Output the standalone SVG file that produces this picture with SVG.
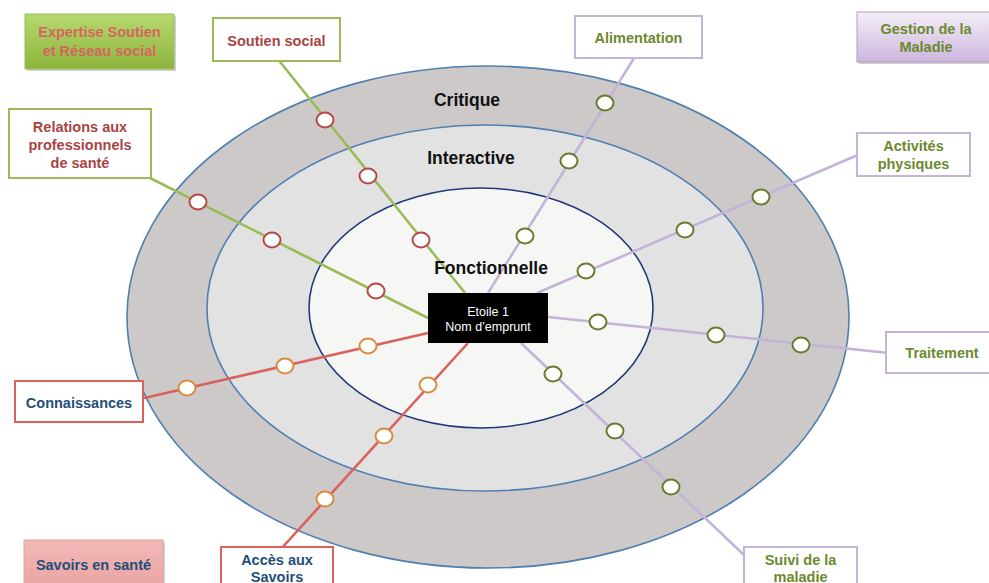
<svg xmlns="http://www.w3.org/2000/svg" width="989" height="583" viewBox="0 0 989 583">
<defs>
<linearGradient id="gGreen" x1="0" y1="0" x2="0" y2="1"><stop offset="0" stop-color="#b6d96f"/><stop offset="1" stop-color="#8db43c"/></linearGradient>
<linearGradient id="gPurple" x1="0" y1="0" x2="0" y2="1"><stop offset="0" stop-color="#f4eef8"/><stop offset="1" stop-color="#cdb6de"/></linearGradient>
<linearGradient id="gPink" x1="0" y1="0" x2="0" y2="1"><stop offset="0" stop-color="#f2b9b7"/><stop offset="1" stop-color="#e9a3a1"/></linearGradient>
</defs>
<style>
text{font-family:"Liberation Sans",Arial,sans-serif;text-anchor:middle}
.lbl{font-size:14.5px;font-weight:bold}
.ring{font-size:17.5px;font-weight:bold;fill:#111}
.red{fill:#a84442}
.sal{fill:#d4665f}
.oli{fill:#6b8a2e}
.blu{fill:#1f4e79}
.bG{fill:#fff;stroke:#9bbb59;stroke-width:2}
.bP{fill:#fff;stroke:#c4b4d9;stroke-width:2}
.bR{fill:#fff;stroke:#d9625c;stroke-width:2}
.shadow{fill:#000;opacity:0.18}
.lG{stroke:#9bbb59;stroke-width:2.6;fill:none}
.lR{stroke:#d9625c;stroke-width:2.6;fill:none}
.lP{stroke:#c3b3d8;stroke-width:2.6;fill:none}
.cR{fill:#fff;stroke:#b64845;stroke-width:2}
.cO{fill:#fff;stroke:#d98c40;stroke-width:2}
.cV{fill:#fff;stroke:#6a7a2e;stroke-width:2}
</style>
<rect width="989" height="583" fill="#fff"/>
<g id="rings">
<ellipse cx="488" cy="317" rx="361" ry="251" fill="#cdc9c9" stroke="#4f7fb0" stroke-width="1.6"/>
<ellipse cx="485" cy="308" rx="278" ry="183" fill="#e3e2e2" stroke="#4f7fb0" stroke-width="1.6"/>
<ellipse cx="481" cy="308" rx="172" ry="120" fill="#f6f6f5" stroke="#1f3a7a" stroke-width="1.6"/>
</g>
<g id="connectors">
<line class="lG" x1="277" y1="58" x2="465" y2="293"/>
<line class="lG" x1="148" y1="177" x2="428" y2="318"/>
<line class="lR" x1="140" y1="399" x2="428" y2="333"/>
<line class="lR" x1="280" y1="550" x2="468" y2="343"/>
<line class="lP" x1="636" y1="55" x2="488" y2="293"/>
<line class="lP" x1="860" y1="154" x2="537" y2="293"/>
<line class="lP" x1="548" y1="317" x2="889" y2="353"/>
<line class="lP" x1="521" y1="343" x2="744" y2="555"/>
<ellipse class="cR" cx="325" cy="120" rx="8.5" ry="7.5"/>
<ellipse class="cR" cx="368" cy="176" rx="8.5" ry="7.5"/>
<ellipse class="cR" cx="421" cy="240" rx="8.5" ry="7.5"/>
<ellipse class="cR" cx="198" cy="202" rx="8.5" ry="7.5"/>
<ellipse class="cR" cx="272" cy="240" rx="8.5" ry="7.5"/>
<ellipse class="cR" cx="376" cy="291" rx="8.5" ry="7.5"/>
<ellipse class="cO" cx="187" cy="388" rx="8.5" ry="7.5"/>
<ellipse class="cO" cx="285" cy="366" rx="8.5" ry="7.5"/>
<ellipse class="cO" cx="368" cy="346" rx="8.5" ry="7.5"/>
<ellipse class="cO" cx="325" cy="499" rx="8.5" ry="7.5"/>
<ellipse class="cO" cx="384" cy="436" rx="8.5" ry="7.5"/>
<ellipse class="cO" cx="428" cy="385" rx="8.5" ry="7.5"/>
<ellipse class="cV" cx="605" cy="103" rx="8.5" ry="7.5"/>
<ellipse class="cV" cx="569" cy="161" rx="8.5" ry="7.5"/>
<ellipse class="cV" cx="525" cy="236" rx="8.5" ry="7.5"/>
<ellipse class="cV" cx="761" cy="197" rx="8.5" ry="7.5"/>
<ellipse class="cV" cx="685" cy="230" rx="8.5" ry="7.5"/>
<ellipse class="cV" cx="586" cy="271" rx="8.5" ry="7.5"/>
<ellipse class="cV" cx="598" cy="322" rx="8.5" ry="7.5"/>
<ellipse class="cV" cx="716" cy="335" rx="8.5" ry="7.5"/>
<ellipse class="cV" cx="801" cy="345" rx="8.5" ry="7.5"/>
<ellipse class="cV" cx="553" cy="374" rx="8.5" ry="7.5"/>
<ellipse class="cV" cx="615" cy="431" rx="8.5" ry="7.5"/>
<ellipse class="cV" cx="671" cy="487" rx="8.5" ry="7.5"/>
</g>
<g id="ring-labels">
<text class="ring" x="467" y="106">Critique</text>
<text class="ring" x="471" y="164">Interactive</text>
<text class="ring" x="491" y="274">Fonctionnelle</text>
</g>
<g id="etoile">
<rect x="428" y="293" width="120" height="50" fill="#000"/>
<text x="488" y="316" font-size="12.5" fill="#fff">Etoile 1</text>
<text x="488" y="331" font-size="12.5" fill="#fff">Nom d’emprunt</text>
</g>
<g id="expertise">
<rect class="shadow" x="27" y="16" width="149" height="55"/>
<rect x="25" y="14" width="149" height="55" fill="url(#gGreen)" stroke="#9bbb59" stroke-width="1"/>
<text class="lbl sal" x="99.5" y="37">Expertise Soutien</text>
<text class="lbl sal" x="99.5" y="56">et Réseau social</text>
</g>
<g id="soutien-social">
<rect class="bG" x="213" y="18" width="127" height="43"/>
<text class="lbl red" x="276.5" y="46">Soutien social</text>
</g>
<g id="relations">
<rect class="bG" x="9" y="109" width="142" height="69"/>
<text class="lbl red" x="80" y="132">Relations aux</text>
<text class="lbl red" x="80" y="150">professionnels</text>
<text class="lbl red" x="80" y="168">de santé</text>
</g>
<g id="alimentation">
<rect class="bP" x="575" y="16" width="127" height="42"/>
<text class="lbl oli" x="638.5" y="43">Alimentation</text>
</g>
<g id="gestion">
<rect class="shadow" x="859" y="14" width="140" height="50"/>
<rect x="857" y="12" width="140" height="50" fill="url(#gPurple)" stroke="#b39bca" stroke-width="1"/>
<text class="lbl oli" x="926" y="34">Gestion de la</text>
<text class="lbl oli" x="926" y="52">Maladie</text>
</g>
<g id="activites">
<rect class="bP" x="857" y="133" width="113" height="43"/>
<text class="lbl oli" x="913.5" y="151">Activités</text>
<text class="lbl oli" x="913.5" y="169">physiques</text>
</g>
<g id="traitement">
<rect class="bP" x="886" y="332" width="110" height="41"/>
<text class="lbl oli" x="942" y="358">Traitement</text>
</g>
<g id="suivi">
<rect class="bP" x="744" y="547" width="113" height="45"/>
<text class="lbl oli" x="800.5" y="565">Suivi de la</text>
<text class="lbl oli" x="800.5" y="581.5">maladie</text>
</g>
<g id="connaissances">
<rect class="bR" x="15" y="381" width="128" height="41"/>
<text class="lbl blu" x="79" y="408">Connaissances</text>
</g>
<g id="acces">
<rect class="bR" x="221" y="547" width="112" height="45"/>
<text class="lbl blu" x="277" y="565">Accès aux</text>
<text class="lbl blu" x="277" y="581.5">Savoirs</text>
</g>
<g id="savoirs-sante">
<rect class="shadow" x="26" y="542" width="139" height="50"/>
<rect x="24" y="540" width="139" height="50" fill="url(#gPink)" stroke="#dba3a2" stroke-width="1"/>
<text class="lbl blu" x="93.5" y="570">Savoirs en santé</text>
</g>
</svg>
